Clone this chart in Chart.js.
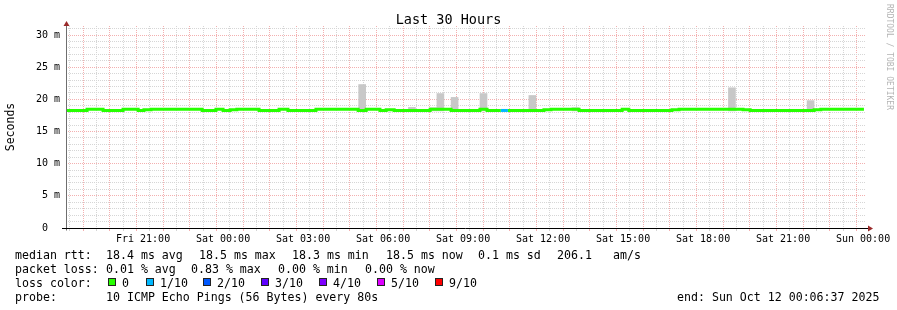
<!DOCTYPE html>
<html>
<head>
<meta charset="utf-8">
<script src="https://cdn.jsdelivr.net/npm/chart.js@4.4.0/dist/chart.umd.min.js"></script>
<style>
body { margin: 0; background: #fff; }
#wrap { position: relative; width: 897px; height: 310px; font-family: 'DejaVu Sans Mono', monospace; }
#wrap canvas { position: absolute; left: 0; top: 0; }
.lg { position: absolute; font-size: 11.6px; line-height: 14px; white-space: pre; color: #000; }
.sw { position: absolute; width: 6px; height: 6px; border: 1px solid #222; }
#title { position: absolute; left: 0; width: 897px; top: 11px; text-align: center; font-size: 13.5px; line-height: 16px; color: #000; }
#credit { position: absolute; left: 884px; top: 4px; writing-mode: vertical-rl; font-size: 8px; line-height: 10px; color: #b4b4b4; white-space: pre; }
</style>
</head>
<body>
<div id="wrap">
  <canvas id="smoke" width="897" height="310"></canvas>
  <div id="title">Last 30 Hours</div>
  <div id="credit">RRDTOOL / TOBI OETIKER</div>

  <span class="lg" style="left:15px;top:247.5px">median rtt:</span>
  <span class="lg" style="left:106px;top:247.5px">18.4 ms avg</span>
  <span class="lg" style="left:199px;top:247.5px">18.5 ms max</span>
  <span class="lg" style="left:292px;top:247.5px">18.3 ms min</span>
  <span class="lg" style="left:386px;top:247.5px">18.5 ms now</span>
  <span class="lg" style="left:478px;top:247.5px">0.1 ms sd</span>
  <span class="lg" style="left:557px;top:247.5px">206.1</span>
  <span class="lg" style="left:613px;top:247.5px">am/s</span>

  <span class="lg" style="left:15px;top:261.5px">packet loss:</span>
  <span class="lg" style="left:106px;top:261.5px">0.01 % avg</span>
  <span class="lg" style="left:191px;top:261.5px">0.83 % max</span>
  <span class="lg" style="left:278px;top:261.5px">0.00 % min</span>
  <span class="lg" style="left:365px;top:261.5px">0.00 % now</span>

  <span class="lg" style="left:15px;top:275.5px">loss color:</span>
  <div id="losslegend"></div>

  <span class="lg" style="left:15px;top:289.5px">probe:</span>
  <span class="lg" style="left:106px;top:289.5px">10 ICMP Echo Pings (56 Bytes) every 80s</span>
  <span class="lg" style="left:677px;top:289.5px">end: Sun Oct 12 00:06:37 2025</span>
</div>
<script>
// time window of the graph
const xStart = 'Fri 18:06:37';
const xEnd = 'Sun 00:06:37';

// median rtt (ms), step values from each time on
const medianTimes = [
    'Fri 18:07', 'Fri 18:54', 'Fri 19:30', 'Fri 20:15', 'Fri 20:49', 'Fri 21:02', 'Fri 21:18', 'Fri 23:13',
    'Fri 23:44', 'Sat 00:00', 'Sat 00:16', 'Sat 00:31', 'Sat 01:21', 'Sat 02:06', 'Sat 02:26', 'Sat 03:29',
    'Sat 05:04', 'Sat 05:22', 'Sat 05:53', 'Sat 06:07', 'Sat 06:25', 'Sat 07:46', 'Sat 08:33', 'Sat 09:38',
    'Sat 09:54', 'Sat 10:25', 'Sat 10:41', 'Sat 12:02', 'Sat 12:18', 'Sat 13:21', 'Sat 14:58', 'Sat 15:13',
    'Sat 16:50', 'Sat 17:06', 'Sat 19:30', 'Sat 19:46', 'Sat 22:10', 'Sat 22:25', 'Sun 00:02'
];
const medianValues = [
    18.27, 18.47, 18.27, 18.47, 18.27, 18.37, 18.47, 18.27,
    18.47, 18.27, 18.37, 18.47, 18.27, 18.47, 18.27, 18.47,
    18.27, 18.47, 18.27, 18.37, 18.27, 18.47, 18.27, 18.47,
    18.27, 18.27, 18.27, 18.37, 18.47, 18.27, 18.47, 18.27,
    18.37, 18.47, 18.37, 18.27, 18.37, 18.47, 18.47
];
// lost pings out of 10 for each step
const lossValues = [
    0, 0, 0, 0, 0, 0, 0, 0,
    0, 0, 0, 0, 0, 0, 0, 0,
    0, 0, 0, 0, 0, 0, 0, 0,
    0, 1, 0, 0, 0, 0, 0, 0,
    0, 0, 0, 0, 0, 0, 0
];

// smoke (spread of the pings) where it shows above the median
const smokeTimes = ['Sat 05:13', 'Sat 07:05', 'Sat 07:53', 'Sat 08:09', 'Sat 08:41', 'Sat 09:46', 'Sat 11:36', 'Sat 13:13', 'Sat 19:05', 'Sat 22:02'];
const smokeLow = [18.2, 18.2, 18.2, 18.2, 18.2, 18.2, 18.2, 18.2, 18.2, 18.2];
const smokeHigh = [22.3, 18.75, 18.7, 20.9, 20.3, 20.9, 20.6, 18.7, 21.8, 19.8];

// loss colours
const lossSteps = [0, 1, 2, 3, 4, 5, 9];
const lossNames = ['0', '1/10', '2/10', '3/10', '4/10', '5/10', '9/10'];
const lossColors = ['#26ff00', '#00b8ff', '#0059ff', '#5e00ff', '#7e00ff', '#dd00ff', '#ff0000'];

// axis labels
const timeTickLabels = ['Fri 21:00', 'Sat 00:00', 'Sat 03:00', 'Sat 06:00', 'Sat 09:00', 'Sat 12:00', 'Sat 15:00', 'Sat 18:00', 'Sat 21:00', 'Sun 00:00'];
const rttTicks = [0, 5, 10, 15, 20, 25, 30];
const rttTickLabels = ['0  ', '5 m', '10 m', '15 m', '20 m', '25 m', '30 m'];

const DAY_OFFSET = { Fri: 0, Sat: 24, Sun: 48 };
function hoursOf(label) {
    const [day, clock] = label.split(' ');
    const [h, m, s] = clock.split(':').map(Number);
    return DAY_OFFSET[day] + h + m / 60 + (s || 0) / 3600;
}
function lossColor(n) {
    let c = lossColors[0];
    lossSteps.forEach((step, i) => { if (n >= step) c = lossColors[i]; });
    return c;
}

const tickHours = timeTickLabels.map(hoursOf);
const majorGrid = '#f3b0b0';
const minorGrid = '#d6d6d6';

// loss colour legend row
const swatchX = [108, 146, 203, 261, 319, 377, 435];
const lossLegend = document.getElementById('losslegend');
lossNames.forEach((name, i) => {
    const box = document.createElement('span');
    box.className = 'sw';
    box.style.left = swatchX[i] + 'px';
    box.style.top = '278px';
    box.style.background = lossColors[i];
    lossLegend.appendChild(box);
    const txt = document.createElement('span');
    txt.className = 'lg';
    txt.style.left = (swatchX[i] + 14) + 'px';
    txt.style.top = '275.5px';
    txt.textContent = name;
    lossLegend.appendChild(txt);
});

const axisArrows = {
    id: 'axisArrows',
    afterDraw(chart) {
        const { ctx, chartArea: a } = chart;
        const y0 = Math.round(chart.scales.y.getPixelForValue(0)) + 0.5;
        const x0 = a.left + 0.5;
        ctx.save();
        ctx.lineWidth = 1;
        ctx.strokeStyle = '#6e6e6e';
        ctx.beginPath();
        ctx.moveTo(x0, y0 + 2);
        ctx.lineTo(x0, a.top - 2);
        ctx.stroke();
        ctx.strokeStyle = '#000';
        ctx.beginPath();
        ctx.moveTo(a.left - 4, y0);
        ctx.lineTo(a.right + 3, y0);
        ctx.stroke();
        ctx.fillStyle = '#9a2a2a';
        ctx.beginPath();
        ctx.moveTo(x0, a.top - 5);
        ctx.lineTo(x0 - 3, a.top);
        ctx.lineTo(x0 + 3, a.top);
        ctx.closePath();
        ctx.fill();
        ctx.beginPath();
        ctx.moveTo(a.right + 7, y0);
        ctx.lineTo(a.right + 2, y0 - 3);
        ctx.lineTo(a.right + 2, y0 + 3);
        ctx.closePath();
        ctx.fill();
        ctx.restore();
    }
};

Chart.defaults.font.family = "'DejaVu Sans Mono', monospace";
Chart.defaults.color = '#000';

new Chart(document.getElementById('smoke'), {
    type: 'line',
    data: {
        datasets: [{
            type: 'bar',
            data: smokeTimes.map((t, i) => ({ x: hoursOf(t), y: [smokeLow[i], smokeHigh[i]] })),
            backgroundColor: '#c8c8c8',
            borderWidth: 0,
            barThickness: 7,
            order: 2
        }, {
            type: 'line',
            data: medianTimes.map((t, i) => ({ x: hoursOf(t), y: medianValues[i] })),
            stepped: true,
            borderWidth: 3,
            borderColor: lossColors[0],
            borderCapStyle: 'butt',
            pointRadius: 0,
            fill: false,
            segment: {
                borderColor: c => lossColor(lossValues[c.p0DataIndex])
            },
            order: 1
        }]
    },
    plugins: [axisArrows],
    options: {
        responsive: false,
        animation: false,
        layout: { padding: { left: 0, right: 31, top: 26, bottom: 0 } },
        scales: {
            x: {
                type: 'linear',
                min: hoursOf(xStart),
                max: hoursOf(xEnd),
                offset: false,
                afterBuildTicks: s => {
                    const t = [];
                    for (let h = 18.5; h <= 48; h += 0.5) t.push({ value: h });
                    s.ticks = t;
                },
                afterFit: s => { s.height = 82; },
                ticks: {
                    autoSkip: false,
                    maxRotation: 0,
                    padding: 2,
                    font: { size: 10 },
                    callback: v => {
                        const i = tickHours.indexOf(v);
                        return i >= 0 ? timeTickLabels[i] : '';
                    }
                },
                grid: {
                    color: c => (c.tick && c.tick.value % 1 === 0) ? majorGrid : minorGrid,
                    tickColor: c => (c.tick && c.tick.value % 1 === 0) ? majorGrid : minorGrid,
                    tickLength: 3,
                    lineWidth: 1
                },
                border: { display: false, dash: [1, 1] }
            },
            y: {
                type: 'linear',
                min: 0,
                max: 31.4,
                afterBuildTicks: s => {
                    const t = [];
                    for (let v = 0; v <= 31; v++) t.push({ value: v });
                    s.ticks = t;
                },
                afterFit: s => { s.width = 66; },
                ticks: {
                    autoSkip: false,
                    padding: 6,
                    font: { size: 10 },
                    callback: v => {
                        const i = rttTicks.indexOf(v);
                        return i >= 0 ? rttTickLabels[i] : '';
                    }
                },
                grid: {
                    color: c => (c.tick && c.tick.value % 5 === 0) ? majorGrid : minorGrid,
                    drawTicks: false,
                    lineWidth: 1
                },
                border: { display: false, dash: [1, 1] },
                title: {
                    display: true,
                    text: 'Seconds',
                    font: { size: 11.5 },
                    padding: { top: 4, bottom: 0 }
                }
            }
        },
        plugins: {
            legend: { display: false },
            tooltip: { enabled: false },
            title: { display: false }
        }
    }
});
</script>
</body>
</html>
